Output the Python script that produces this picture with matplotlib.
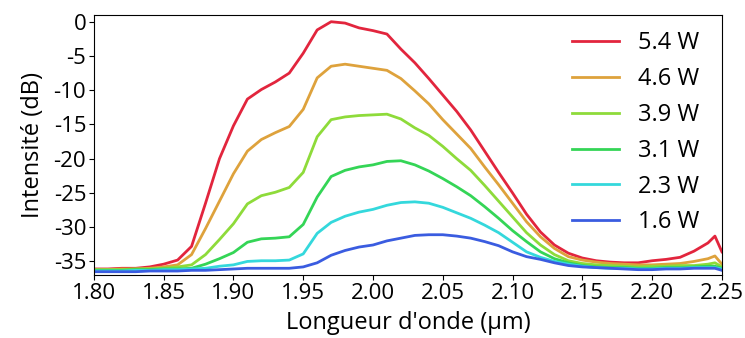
import numpy as np
import matplotlib
matplotlib.use('Agg')
import matplotlib.pyplot as plt

plt.rcParams['font.family'] = ['Open Sans', 'DejaVu Sans']

# wavelength grid (um)
wl = [1.80, 1.81, 1.82, 1.83, 1.84, 1.85, 1.86, 1.87, 1.88, 1.89,
      1.90, 1.91, 1.92, 1.93, 1.94, 1.95, 1.96, 1.97, 1.98, 1.99,
      2.00, 2.01, 2.02, 2.03, 2.04, 2.05, 2.06, 2.07, 2.08, 2.09,
      2.10, 2.11, 2.12, 2.13, 2.14, 2.15, 2.16, 2.17, 2.18, 2.19,
      2.20, 2.21, 2.22, 2.23, 2.24, 2.245, 2.25]

# spectra (dB) for each pump power
p54 = [-36.1, -36.1, -36.0, -36.0, -35.8, -35.4, -34.8, -32.8, -26.5, -20.0,
       -15.2, -11.3, -9.9, -8.8, -7.5, -4.6, -1.2, 0.0, -0.2, -0.9,
       -1.3, -1.8, -4.0, -6.0, -8.3, -10.7, -13.1, -15.8, -18.9, -22.0,
       -25.0, -28.1, -30.7, -32.6, -33.8, -34.5, -34.9, -35.1, -35.2, -35.2,
       -34.9, -34.7, -34.4, -33.5, -32.3, -31.3, -33.6]
p46 = [-36.2, -36.2, -36.1, -36.1, -36.0, -35.8, -35.5, -34.0, -30.2, -26.2,
       -22.2, -18.9, -17.2, -16.2, -15.3, -12.8, -8.2, -6.5, -6.2, -6.5,
       -6.8, -7.1, -8.3, -10.1, -12.0, -14.3, -16.4, -18.5, -21.2, -23.8,
       -26.5, -29.2, -31.4, -33.1, -34.3, -34.8, -35.1, -35.3, -35.4, -35.5,
       -35.5, -35.4, -35.3, -35.0, -34.6, -34.2, -35.4]
p39 = [-36.2, -36.2, -36.2, -36.1, -36.1, -36.0, -35.8, -35.5, -34.0, -31.8,
       -29.5, -26.6, -25.4, -24.9, -24.2, -22.0, -16.8, -14.3, -13.9, -13.7,
       -13.6, -13.5, -14.2, -15.5, -16.6, -18.2, -20.0, -21.7, -23.9, -26.2,
       -28.5, -30.8, -32.6, -34.0, -34.9, -35.3, -35.5, -35.6, -35.7, -35.8,
       -35.7, -35.7, -35.6, -35.6, -35.4, -35.2, -35.8]
p31 = [-36.3, -36.3, -36.3, -36.2, -36.2, -36.1, -36.1, -36.0, -35.4, -34.6,
       -33.7, -32.2, -31.7, -31.6, -31.4, -29.6, -25.6, -22.6, -21.7, -21.2,
       -20.9, -20.4, -20.3, -20.9, -21.8, -22.9, -24.1, -25.4, -27.0, -28.7,
       -30.5, -32.1, -33.6, -34.6, -35.2, -35.6, -35.8, -35.9, -35.9, -36.0,
       -36.0, -35.9, -35.9, -35.8, -35.7, -35.7, -36.0]
p23 = [-36.4, -36.4, -36.4, -36.3, -36.3, -36.2, -36.2, -36.1, -36.0, -35.7,
       -35.5, -35.0, -34.9, -34.9, -34.8, -33.9, -30.9, -29.3, -28.4, -27.8,
       -27.4, -26.8, -26.4, -26.3, -26.5, -27.1, -27.9, -28.7, -29.7, -30.8,
       -32.2, -33.6, -34.4, -35.0, -35.4, -35.7, -35.9, -36.0, -36.0, -36.1,
       -36.1, -36.0, -36.0, -35.9, -35.9, -35.9, -36.1]
p16 = [-36.5, -36.5, -36.5, -36.5, -36.4, -36.4, -36.4, -36.3, -36.3, -36.2,
       -36.1, -36.0, -36.0, -36.0, -36.0, -35.8, -35.2, -34.1, -33.4, -32.9,
       -32.6, -32.0, -31.6, -31.2, -31.1, -31.1, -31.3, -31.6, -32.1, -32.7,
       -33.6, -34.3, -34.7, -35.2, -35.6, -35.8, -35.9, -36.0, -36.1, -36.2,
       -36.2, -36.1, -36.1, -36.0, -36.0, -36.0, -36.3]

labels = ['5.4 W', '4.6 W', '3.9 W', '3.1 W', '2.3 W', '1.6 W']
colors = ['#e2253d', '#dea23c', '#8edb3a', '#34d556', '#34d8dc', '#3a5ce0']
series = [p54, p46, p39, p31, p23, p16]

fig = plt.figure(figsize=(7.45, 3.38), dpi=100)
ax = fig.add_axes([0.126, 0.186, 0.843, 0.770])

for y, c, lab in zip(series, colors, labels):
    ax.plot(wl, y, color=c, lw=2, label=lab)

ax.set_xlim(1.80, 2.25)
ax.set_ylim(-37, 1)
ax.set_xticks(np.arange(1.80, 2.251, 0.05))
ax.set_xticklabels(['%.2f' % v for v in np.arange(1.80, 2.251, 0.05)])
ax.set_yticks([0, -5, -10, -15, -20, -25, -30, -35])
ax.set_yticklabels(['0', '-5', '-10', '-15', '-20', '-25', '-30', '-35'])
ax.tick_params(labelsize=16, pad=2)
ax.set_xlabel("Longueur d'onde (µm)", fontsize=17, labelpad=5)
ax.set_ylabel('Intensité (dB)', fontsize=17, labelpad=6)

ax.legend(frameon=False, fontsize=17, loc='upper right',
          handlelength=2.0, handletextpad=0.8, labelspacing=0.5,
          borderaxespad=0.3, bbox_to_anchor=(0.99, 1.0))

fig.savefig('out.png', dpi=100)
